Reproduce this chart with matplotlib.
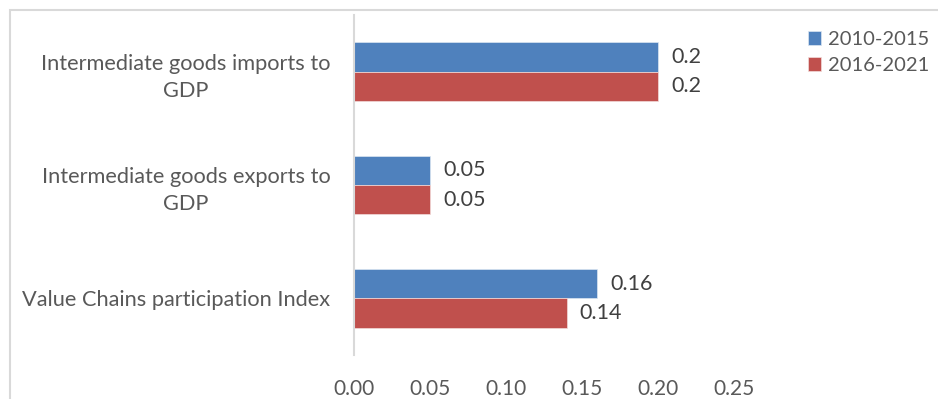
import numpy as np
import matplotlib.pyplot as plt
from matplotlib.patches import Rectangle

# Data
categories = ['Intermediate goods imports to\nGDP',
              'Intermediate goods exports to\nGDP',
              'Value Chains participation Index']
series_names = ['2010-2015', '2016-2021']
vals_2010_2015 = [0.20, 0.05, 0.16]
vals_2016_2021 = [0.20, 0.05, 0.14]
value_labels_a = ['0.2', '0.05', '0.16']
value_labels_b = ['0.2', '0.05', '0.14']
xticks = [0.00, 0.05, 0.10, 0.15, 0.20, 0.25]

blue = '#4F81BD'
red = '#C0504D'
txt = '#595959'

plt.rcParams['font.family'] = ['Lato', 'DejaVu Sans']

W, H = 938, 399
fig = plt.figure(figsize=(W / 100, H / 100), dpi=100)
ax = fig.add_axes([354 / W, 1 - 355 / H, (734 - 354) / W, (355 - 15) / H])

# outer chart frame (cut off at right and bottom)
fig.patches.append(Rectangle((10 / W, -0.1), 1.2, 1 - 10 / H + 0.1, transform=fig.transFigure,
                             fill=False, edgecolor='#d9d9d9', linewidth=1.5))

y = np.arange(len(categories))
h = 0.26
ax.barh(y - h / 2, vals_2010_2015, height=h, color=blue, edgecolor='#dce6f2', linewidth=0.5, label=series_names[0])
ax.barh(y + h / 2, vals_2016_2021, height=h, color=red, edgecolor='#f2dcdb', linewidth=0.5, label=series_names[1])

for i in range(len(categories)):
    ax.text(vals_2010_2015[i] + 0.0085, y[i] - h / 2, value_labels_a[i], va='center', ha='left',
            fontsize=15.5, color='#404040')
    ax.text(vals_2016_2021[i] + 0.0085, y[i] + h / 2, value_labels_b[i], va='center', ha='left',
            fontsize=15.5, color='#404040')

ax.set_ylim(2.5, -0.5)
ax.set_xlim(0, 0.25)
ax.set_yticks(y)
ax.set_yticklabels(categories, fontsize=15.7, color=txt)
for lbl in ax.get_yticklabels():
    lbl.set_multialignment('center')
    lbl.set_linespacing(1.45)
ax.set_xticks(xticks)
ax.set_xticklabels([f'{t:.2f}' for t in xticks], fontsize=15, color=txt)
ax.tick_params(axis='y', length=0, pad=17)
ax.tick_params(axis='x', length=0, pad=17)

for s in ['top', 'right', 'bottom']:
    ax.spines[s].set_visible(False)
ax.spines['left'].set_color('#d9d9d9')
ax.spines['left'].set_linewidth(1.5)

leg = fig.legend(loc='upper left', bbox_to_anchor=(808 / W, 1 - 31 / H), frameon=False,
                 fontsize=14.5, handlelength=0.65, handleheight=0.65, handletextpad=0.35,
                 labelspacing=0.45, borderaxespad=0, borderpad=0)
for t in leg.get_texts():
    t.set_color(txt)

fig.savefig('out.png', dpi=100)
